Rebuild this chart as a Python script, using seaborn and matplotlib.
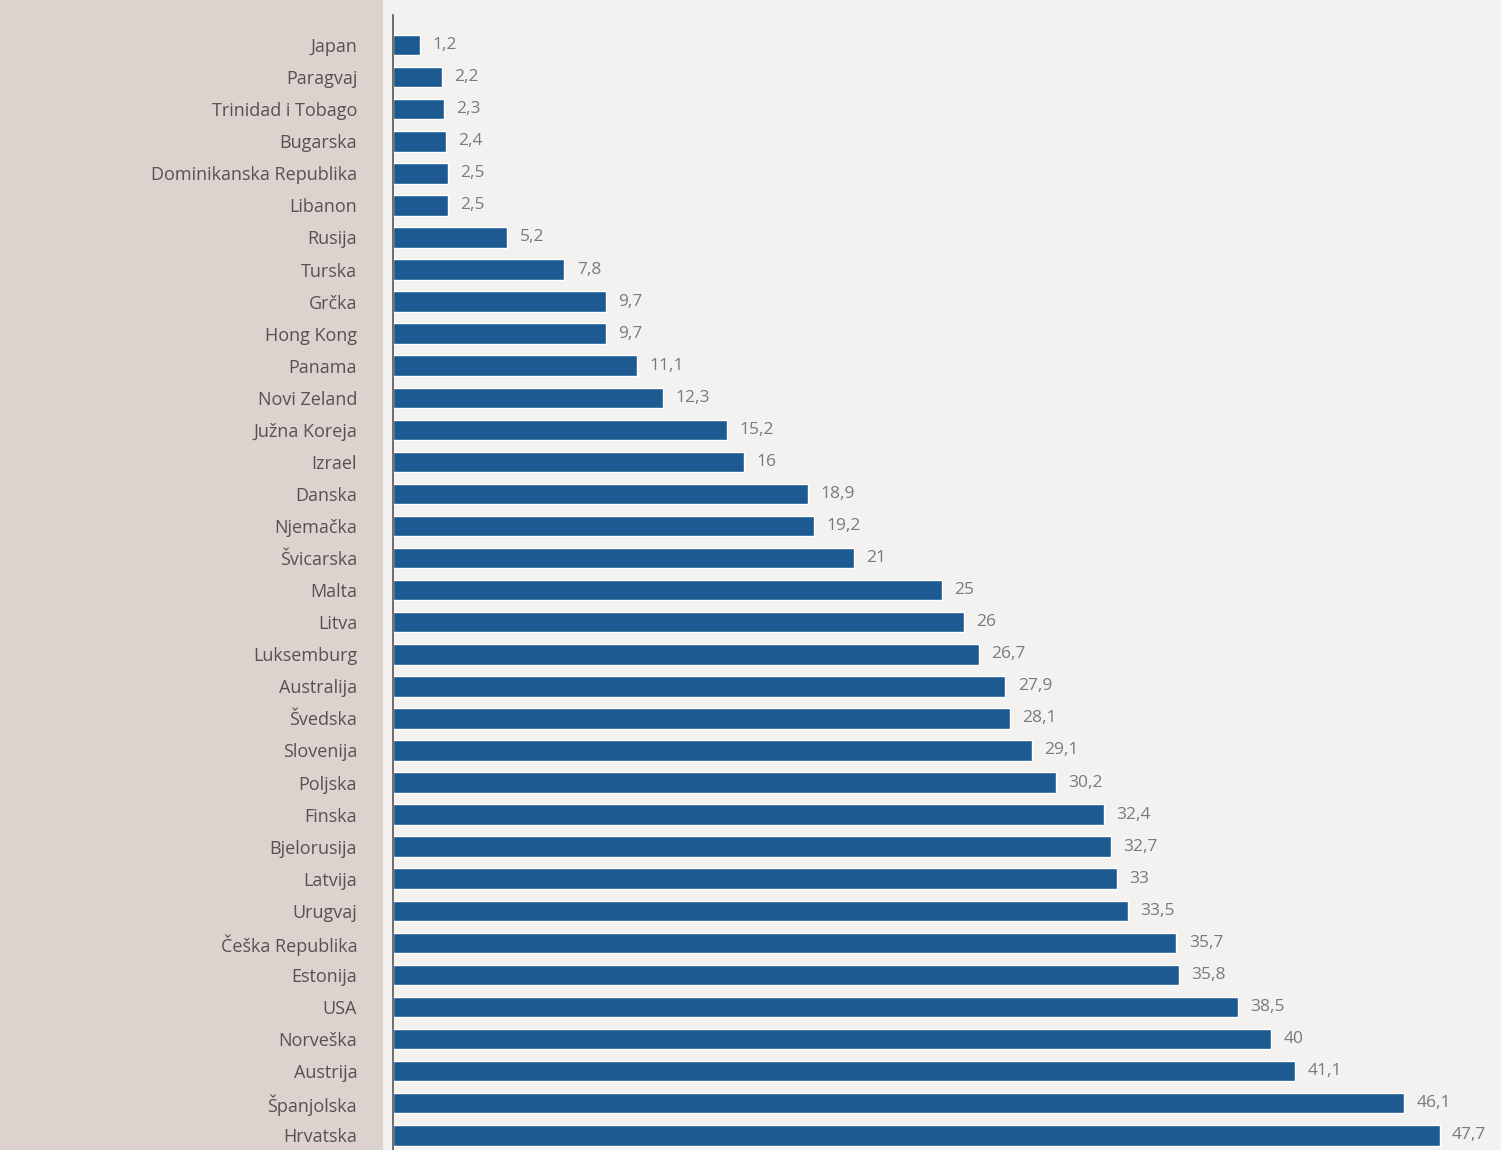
import matplotlib
matplotlib.use("Agg")
import matplotlib.pyplot as plt
import seaborn as sns
import pandas as pd

# podaci očitani sa slike
zemlje = [
    "Japan", "Paragvaj", "Trinidad i Tobago", "Bugarska", "Dominikanska Republika",
    "Libanon", "Rusija", "Turska", "Grčka", "Hong Kong", "Panama", "Novi Zeland",
    "Južna Koreja", "Izrael", "Danska", "Njemačka", "Švicarska", "Malta", "Litva",
    "Luksemburg", "Australija", "Švedska", "Slovenija", "Poljska", "Finska",
    "Bjelorusija", "Latvija", "Urugvaj", "Češka Republika", "Estonija", "USA",
    "Norveška", "Austrija", "Španjolska", "Hrvatska",
]
vrijednosti = [
    1.2, 2.2, 2.3, 2.4, 2.5, 2.5, 5.2, 7.8, 9.7, 9.7, 11.1, 12.3, 15.2, 16,
    18.9, 19.2, 21, 25, 26, 26.7, 27.9, 28.1, 29.1, 30.2, 32.4, 32.7, 33, 33.5,
    35.7, 35.8, 38.5, 40, 41.1, 46.1, 47.7,
]

df = pd.DataFrame({"zemlja": zemlje, "vrijednost": vrijednosti})

sns.set_style("white")
plt.rcParams["font.family"] = ["Open Sans", "DejaVu Sans"]

fig = plt.figure(figsize=(15.01, 11.5), dpi=100)
fig.patch.set_facecolor("#f4f2f1")
# tamnija lijeva strana stranice
fig.patches.append(plt.Rectangle((0, 0), 0.255, 1, transform=fig.transFigure,
                                 facecolor="#dcd3cf", edgecolor="none", zorder=-1))

ax = fig.add_axes([0.262, 0.0, 0.738, 0.987])
ax.set_facecolor("none")

sns.barplot(data=df, y="zemlja", x="vrijednost", orient="h",
            color="#1d5a91", saturation=1, width=0.64, ax=ax)

ax.bar_label(ax.containers[0],
             labels=[f"{v:g}".replace(".", ",") for v in vrijednosti],
             padding=9, fontsize=12.5, color="#7a7a7a")

ax.set_xlim(0, 50.5)
ax.set_ylim(34.46, -0.94)
ax.set_xlabel("")
ax.set_ylabel("")
ax.set_xticks([])
ax.tick_params(axis="y", length=0, pad=26, labelsize=13, labelcolor="#5a5050")

for s in ["top", "right", "bottom"]:
    ax.spines[s].set_visible(False)
ax.spines["left"].set_color("#555555")
ax.spines["left"].set_linewidth(1.2)

fig.savefig("out.png", dpi=100, facecolor=fig.get_facecolor())
